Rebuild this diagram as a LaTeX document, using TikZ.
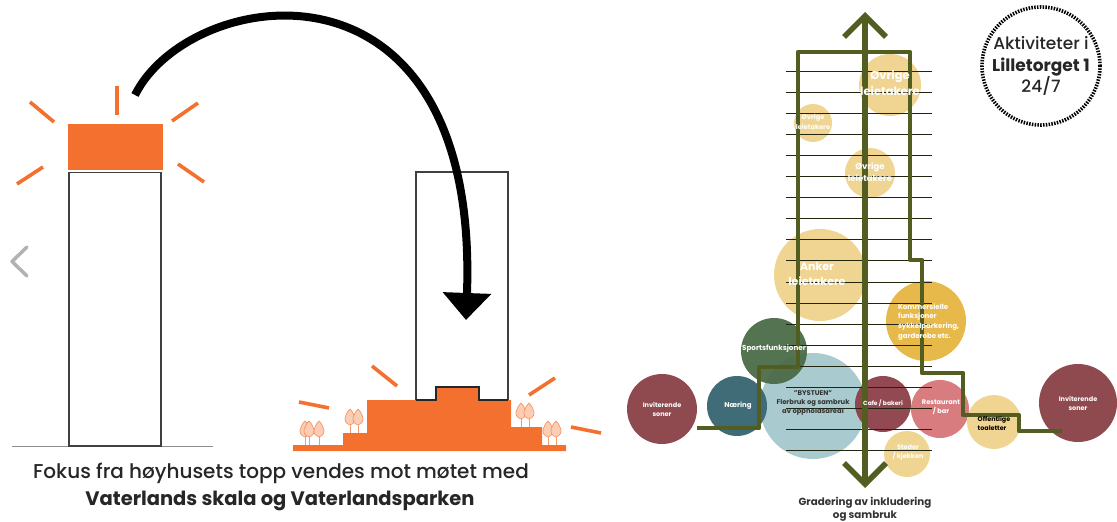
\documentclass[tikz,border=0pt]{standalone}
\usepackage{fontspec}
\setmainfont{Poppins}[UprightFont={Poppins Medium},BoldFont={Poppins Bold}]
\usetikzlibrary{arrows.meta}
\definecolor{orangered}{HTML}{F4702E}
\definecolor{treepale}{HTML}{FBCDB5}
\definecolor{olive}{HTML}{525D22}
\definecolor{sand}{HTML}{EFD591}
\definecolor{gold}{HTML}{E7B94B}
\definecolor{wine}{HTML}{8F4A4F}
\definecolor{wood}{HTML}{4B6B48}
\definecolor{petrol}{HTML}{3F6C76}
\definecolor{sky}{HTML}{A9CBCF}
\definecolor{cafe}{HTML}{8C3F48}
\definecolor{rose}{HTML}{D87C80}
\tikzset{
  bubble/.style={circle,inner sep=0pt},
  bubtext/.style={inner sep=0pt,align=center,text=white,font=\bfseries\fontsize{#1}{#1}\selectfont},
  bubtext/.default=6,
  ray/.style={orangered,line width=3.6pt},
  outline/.style={draw=black!75,line width=1.1pt,fill=white},
  floorline/.style={draw=black!60!olive,line width=1pt},
  route/.style={olive,line width=4.2pt,line join=round}
}
\newcommand{\treeat}[2]{%
  \draw [orangered!70,line width=.6pt] (#1,#2) -- (#1,#2-15);
  \draw [orangered!80,fill=treepale,line width=.6pt] (#1,#2-8) .. controls (#1-9,#2-11) and (#1-4,#2-20) .. (#1,#2-24) .. controls (#1+4,#2-20) and (#1+9,#2-11) .. (#1,#2-8) -- cycle;
}
\begin{document}
\begin{tikzpicture}[line cap=butt,line join=miter,x=1pt,y=-1pt]
\useasboundingbox (0,0) rectangle (1117,522);
% left half
\draw [black!45,line width=.7pt] (12,446) -- (213,446);
\draw [outline] (69,172.5) rectangle (161,446);
\fill [orangered] (68,124) rectangle (163,169.5);
\foreach \xa/\ya/\xb/\yb in {117/86/117/115,30/102/54/122,198/103/172/121,43/167/17/184,178/164/204/182}
  \draw [ray] (\xa,\ya) -- (\xb,\yb);
\draw [black!30,line width=3.5pt,line cap=round,line join=round] (27,247) -- (12,261.5) -- (27,276);
% right tower with the stepped base
\draw [outline,fill=none] (416,172) rectangle (508,400);
\fill [orangered] (293,451) -- (293,445) -- (343,445) -- (343,433) -- (367,433) -- (367,400) -- (436,400) -- (436,387) -- (479,387) -- (479,400) -- (511,400) -- (511,427) -- (542,427) -- (542,445) -- (566,445) -- (566,451) -- cycle;
\draw [black!85,line width=1.1pt] (416,400) -- (436,400) -- (436,387) -- (479,387) -- (479,400) -- (508,400);
\foreach \xa/\ya/\xb/\yb in {372/366/397/386,299/402/329/408,555/378/529/395,571/427/601/433}
  \draw [ray] (\xa,\ya) -- (\xb,\yb);
\foreach \tx/\ty in {305/445,309/445,319/445,350/433,358/433,521/427,529/427,548/445,556/445}
  {\treeat{\tx}{\ty}}
% big arrow
\coordinate (topstart) at (135,95);
\coordinate (meeting) at (466,320);
\draw [-{Triangle[length=27pt,width=47pt]},line width=8pt] (topstart) .. controls (190,-15) and (480,-60) .. (meeting);
\node (focus) [text=black!85] at (281,473.5) {\fontsize{20}{22}\selectfont Fokus fra høyhusets topp vendes mot møtet med};
\node (vaterland) [text=black!85] at (280,501) {\fontsize{19.5}{22}\selectfont\bfseries Vaterlands skala og Vaterlandsparken};
% bubbles
\node (leie1) [bubble,fill=sand,minimum size=62pt] at (890,85) {};
\node (leie2) [bubble,fill=sand,minimum size=38pt] at (813,123) {};
\node (leie3) [bubble,fill=sand,minimum size=50pt] at (870,173) {};
\node (anker) [bubble,fill=sand,minimum size=92pt] at (820,275) {};
\node (komm) [bubble,fill=gold,minimum size=80pt] at (926,321) {};
\node (systuen) [bubble,fill=sky,minimum size=106pt] at (813,406) {};
\node (sport) [bubble,fill=wood,fill opacity=.95,minimum size=66pt] at (774,351) {};
\node (naering) [bubble,fill=petrol,minimum size=60pt] at (737,406) {};
\node (inviterV) [bubble,fill=wine,minimum size=70pt] at (662,409) {};
\node (inviterH) [bubble,fill=wine,minimum size=78pt] at (1078,403) {};
\node (cafe) [bubble,fill=cafe,fill opacity=.95,minimum size=56pt] at (883,404) {};
\node (rest) [bubble,fill=rose,minimum size=58pt] at (940,409) {};
\node (toalett) [bubble,fill=sand,minimum size=54pt] at (994,422) {};
\node (steder) [bubble,fill=sand,minimum size=46pt] at (907,454) {};
% floors
\foreach \i in {0,...,18}
  \draw [floorline] (786,71+21.1*\i) -- (932,71+21.1*\i);
% route through the building
\draw [route] (697,428) -- (759,428) -- (759,367) -- (798,367) -- (798,52) -- (910,52) -- (910,260) -- (922,260) -- (922,373) -- (963,373) -- (963,415) -- (1019,415) -- (1019,431) -- (1062,431);
\coordinate (gradtop) at (865,12);
\coordinate (gradbot) at (865,488);
\draw [{Straight Barb[length=21pt,width=42pt,line width=5.5pt]}-{Straight Barb[length=21pt,width=42pt,line width=5.5pt]},olive,line width=5.5pt] (gradtop) -- (gradbot);
% labels on top
\node (leie1txt) [bubtext=11.5] at (890,83) {Øvrige\\[3pt]leietakere};
\node (leie2txt) [bubtext=6.6] at (813,122) {Øvrige\\[2pt]leietakere};
\node (leie3txt) [bubtext=8.5] at (870,172) {Øvrige\\[2pt]leietakere};
\node (ankertxt) [bubtext=11] at (817,274) {Anker\\[4pt]leietakere};
\node (kommtxt) [bubtext=7] at (931,322) {\parbox{66pt}{\raggedright Kommersielle\\[1.8pt]funksjoner\\[1.8pt]sykkelparkering,\\[1.8pt]garderobe etc.}};
\node (sporttxt) [bubtext=7.2] at (774,349) {Sportsfunksjoner};
\node (naertxt) [bubtext=7] at (738,406) {Næring};
\node (invVtxt) [bubtext=6.5] at (662,409) {Inviterende\\[2.5pt]soner};
\node (invHtxt) [bubtext=6.5] at (1078,403) {Inviterende\\[2.5pt]soner};
\node (cafetxt) [bubtext=6] at (883,403) {Cafe / bakeri};
\node (resttxt) [bubtext=6.6] at (941,407) {Restaurant\\[2.5pt]/ bar};
\node (stedtxt) [bubtext=6.5] at (908,452) {Steder\\[2.5pt]/ kjøkken};
\node (systekst) at (813,403) [align=center,text=black!80,font=\bfseries\fontsize{6.8}{9}\selectfont] {"BYSTUEN"\\Flerbruk og sambruk\\av oppholdsareal};
\node (toatekst) at (994,423) [align=left,text=black,font=\bfseries\fontsize{6.4}{9}\selectfont] {Offentlige\\toaletter};
\node (gradering) at (865,509) [align=center,text=black!80,font=\bfseries\fontsize{10.3}{13}\selectfont] {Gradering av inkludering\\og sambruk};
\node (aktivitet) [circle,draw=black,line width=3.6pt,dash pattern=on 1.5pt off 1.3pt,minimum size=118pt,inner sep=0pt] at (1041,66) {};
\node (aktivtxt) [align=center,text=black!85,font=\fontsize{17}{21.5}\selectfont] at (1041,66) {Aktiviteter i\\\textbf{Lilletorget 1}\\24/7};
\end{tikzpicture}
\end{document}
